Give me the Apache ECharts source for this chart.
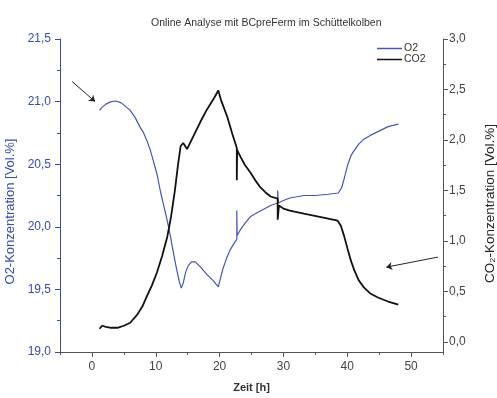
<!DOCTYPE html>
<html>
<head>
<meta charset="utf-8">
<script src="https://cdn.jsdelivr.net/npm/echarts@6/dist/echarts.min.js"></script>
<style>
  html, body { margin: 0; padding: 0; background: #fff; }
  #chart { width: 497px; height: 398px; }
</style>
</head>
<body>
<div id="chart"></div>
<script>
// time [h]
const o2Time = [1.2, 1.5, 2.2, 3.0, 3.8, 4.6, 5.3, 6.0, 6.8, 7.5, 8.1, 8.6, 9.1, 9.6, 10.2, 10.7, 11.2, 11.8,
  12.2, 12.6, 13.0, 13.4, 13.7, 14.0, 14.3, 14.7, 15.1, 15.6, 16.2, 17.0, 18.0, 19.0, 19.8, 20.1, 20.5,
  21.1, 21.7, 22.3, 22.7, 22.7, 22.75, 23.3, 24.0, 24.8, 25.8, 26.9, 28.0, 29.1, 29.1, 29.2, 30.0, 31.0,
  33.2, 35.0, 37.0, 38.6, 39.1, 39.5, 40.1, 40.6, 41.1, 41.8, 42.6, 43.6, 44.8, 46.4, 47.2, 48.0];
// O2 [Vol.%]
const o2Values = [20.93, 20.95, 20.98, 21.00, 21.005, 20.99, 20.96, 20.93, 20.87, 20.80, 20.75, 20.69, 20.62,
  20.53, 20.42, 20.29, 20.18, 20.05, 19.95, 19.84, 19.73, 19.63, 19.56, 19.51, 19.55, 19.64, 19.69, 19.72,
  19.72, 19.68, 19.62, 19.57, 19.52, 19.58, 19.66, 19.75, 19.82, 19.87, 19.90, 20.13, 19.93, 19.98, 20.03,
  20.08, 20.11, 20.14, 20.17, 20.19, 20.29, 20.19, 20.21, 20.23, 20.25, 20.25, 20.26, 20.27, 20.31, 20.38,
  20.50, 20.57, 20.61, 20.66, 20.70, 20.73, 20.76, 20.80, 20.81, 20.82];

const co2Time = [1.2, 1.6, 2.2, 3.0, 4.0, 5.0, 6.0, 7.1, 7.9, 8.6, 9.4, 10.2, 11.0, 11.8, 12.4, 13.0, 13.5,
  13.9, 14.3, 14.9, 16.0, 17.0, 18.0, 19.0, 19.8, 20.2, 21.2, 22.0, 22.7, 22.7, 22.75, 23.3, 24.0, 24.8,
  25.6, 26.4, 27.2, 28.0, 29.1, 29.1, 29.3, 30.0, 31.0, 33.2, 35.5, 38.5, 39.0, 39.5, 40.1, 40.6, 41.1,
  41.8, 42.6, 43.6, 44.8, 46.4, 48.0];
// CO2 [Vol.%]
const co2Values = [0.13, 0.16, 0.15, 0.14, 0.14, 0.16, 0.19, 0.27, 0.35, 0.45, 0.56, 0.69, 0.85, 1.04, 1.24,
  1.50, 1.76, 1.94, 1.97, 1.91, 2.05, 2.18, 2.30, 2.40, 2.49, 2.40, 2.23, 2.06, 1.92, 1.60, 1.90, 1.83,
  1.75, 1.68, 1.60, 1.53, 1.48, 1.44, 1.42, 1.21, 1.35, 1.32, 1.30, 1.27, 1.24, 1.20, 1.15, 1.05, 0.91,
  0.80, 0.71, 0.61, 0.54, 0.48, 0.44, 0.40, 0.37];

// arrows [time, value]
const o2Arrow = [[-3.1, 21.16], [0.5, 21.0]];
const co2Arrow = [[54.2, 0.84], [46.1, 0.74]];

const xMajor = [0, 10, 20, 30, 40, 50];
const xMinor = [-5, 5, 15, 25, 35, 45, 55];
const co2Major = [0, 0.5, 1.0, 1.5, 2.0, 2.5, 3.0];
const co2Minor = [0.25, 0.75, 1.25, 1.75, 2.25, 2.75];

const blue = '#4456b2';
const axisBlue = '#3a4ca8';
const font = 'Liberation Sans';
const comma = (v) => v.toFixed(1).replace('.', ',');

const chart = echarts.init(document.getElementById('chart'));

chart.setOption({
  animation: false,
  textStyle: { fontFamily: font },
  title: {
    text: 'Online Analyse mit BCpreFerm im Schüttelkolben',
    left: 146,
    top: 13,
    textStyle: { fontSize: 10.5, fontWeight: 'normal', color: '#333', fontFamily: font },
  },
  legend: {
    orient: 'vertical',
    left: 377,
    top: 43,
    itemWidth: 25,
    itemHeight: 1.5,
    itemGap: 0,
    padding: 0,
    icon: 'rect',
    textStyle: { fontSize: 10.5, color: '#333', padding: [0, 0, 0, -3], lineHeight: 9.5 },
    data: ['O2', 'CO2'],
  },
  grid: { left: 60, right: 54, top: 39, bottom: 46, outerBoundsMode: 'none', containLabel: false },
  xAxis: [
    {
      type: 'value',
      min: -5,
      max: 55,
      name: 'Zeit [h]',
      nameLocation: 'middle',
      nameGap: 30,
      nameTextStyle: { fontSize: 11, fontWeight: 'bold', color: '#333' },
      splitLine: { show: false },
      axisLine: { onZero: false, lineStyle: { color: '#555', width: 1 } },
      axisTick: { customValues: xMajor, length: 5, lineStyle: { color: '#555' } },
      axisLabel: { customValues: xMajor, fontSize: 12, color: '#444', margin: 9 },
    },
    {
      type: 'value',
      min: -5,
      max: 55,
      position: 'bottom',
      splitLine: { show: false },
      axisLine: { show: false, onZero: false },
      axisTick: { customValues: xMinor, length: 3, lineStyle: { color: '#555' } },
      axisLabel: { show: false },
    },
  ],
  yAxis: [
    {
      type: 'value',
      min: 19,
      max: 21.5,
      interval: 0.5,
      position: 'left',
      name: 'O2-Konzentration [Vol.%]',
      nameLocation: 'middle',
      nameGap: 37,
      nameTextStyle: { fontSize: 13, color: axisBlue, padding: [0, 32, 0, 0] },
      splitLine: { show: false },
      axisLine: { show: true, onZero: false, lineStyle: { color: axisBlue, width: 1 } },
      axisTick: { show: true, length: 5, lineStyle: { color: axisBlue } },
      minorTick: { show: true, splitNumber: 2, length: 3, lineStyle: { color: axisBlue } },
      axisLabel: { fontSize: 12, color: axisBlue, margin: 9, formatter: comma },
    },
    {
      type: 'value',
      min: -0.1,
      max: 3.0,
      position: 'right',
      name: 'CO₂-Konzentration [Vol.%]',
      nameLocation: 'middle',
      nameGap: 40,
      nameTextStyle: { fontSize: 13.5, color: '#222', padding: [0, 16, 0, 0] },
      splitLine: { show: false },
      axisLine: { show: true, onZero: false, lineStyle: { color: '#555', width: 1 } },
      axisTick: { show: true, customValues: co2Major, length: 5, lineStyle: { color: '#555' } },
      axisLabel: { customValues: co2Major, fontSize: 12, color: '#444', margin: 6, formatter: comma },
    },
    {
      type: 'value',
      min: -0.1,
      max: 3.0,
      position: 'right',
      splitLine: { show: false },
      axisLine: { show: false, onZero: false },
      axisTick: { show: true, customValues: co2Minor, length: 3, lineStyle: { color: '#555' } },
      axisLabel: { show: false },
    },
  ],
  series: [
    {
      name: 'O2',
      type: 'line',
      yAxisIndex: 0,
      symbol: 'none',
      data: o2Time.map((t, i) => [t, o2Values[i]]),
      itemStyle: { color: blue },
      lineStyle: { color: blue, width: 1.2 },
      markLine: {
        silent: true,
        symbol: ['none', 'arrow'],
        symbolSize: 6,
        label: { show: false },
        lineStyle: { color: '#222', width: 1, type: 'solid' },
        data: [[{ coord: o2Arrow[0] }, { coord: o2Arrow[1] }]],
      },
    },
    {
      name: 'CO2',
      type: 'line',
      yAxisIndex: 1,
      symbol: 'none',
      data: co2Time.map((t, i) => [t, co2Values[i]]),
      itemStyle: { color: '#111' },
      lineStyle: { color: '#111', width: 1.8 },
      markLine: {
        silent: true,
        symbol: ['none', 'arrow'],
        symbolSize: 6,
        label: { show: false },
        lineStyle: { color: '#222', width: 1, type: 'solid' },
        data: [[{ coord: co2Arrow[0] }, { coord: co2Arrow[1] }]],
      },
    },
  ],
});
</script>
</body>
</html>
